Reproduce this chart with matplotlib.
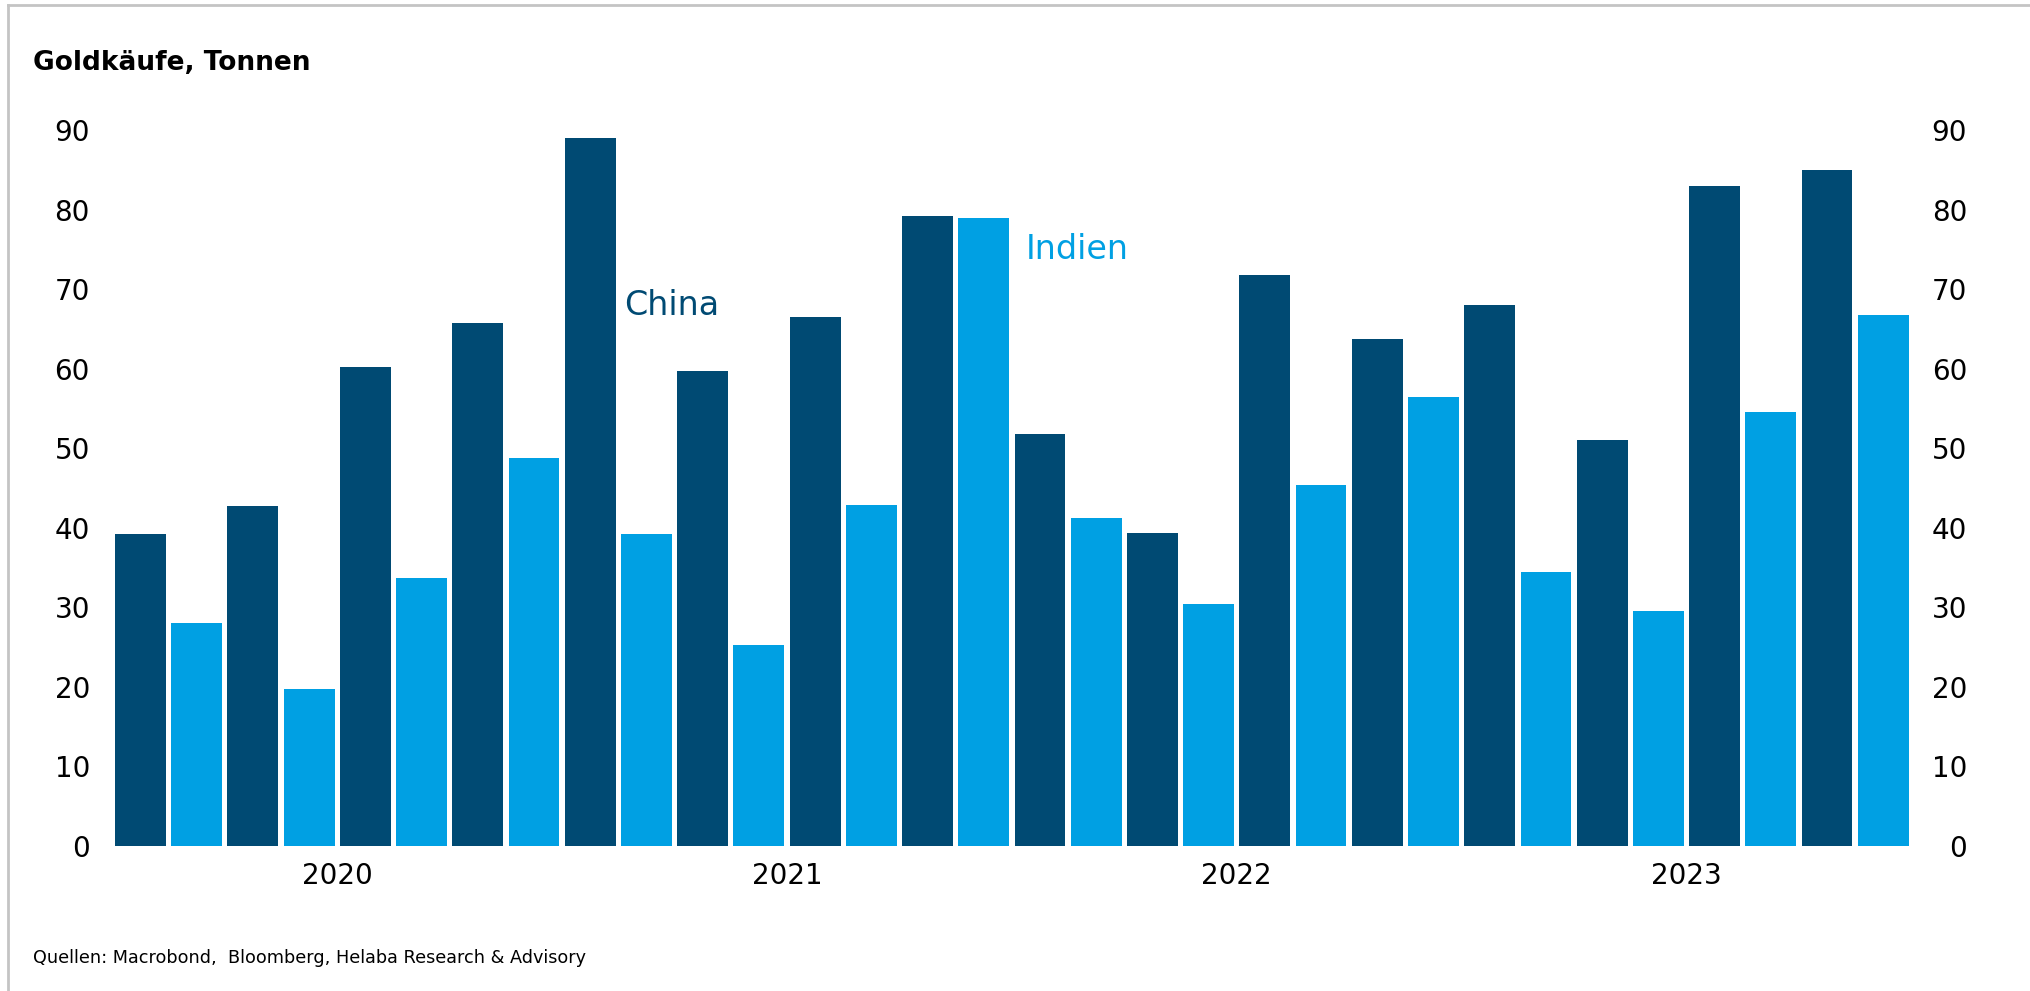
import matplotlib
matplotlib.use("Agg")
import matplotlib.pyplot as plt
from matplotlib.lines import Line2D
import numpy as np

# Goldkäufe je Quartal, Tonnen
years = ["2020", "2021", "2022", "2023"]
china = [39.2, 42.7, 60.2, 65.7, 89.0, 59.7, 66.5, 79.2,
         51.8, 39.3, 71.8, 63.7, 68.0, 51.0, 83.0, 85.0]
indien = [28.0, 19.7, 33.7, 48.8, 39.2, 25.3, 42.9, 78.9,
          41.2, 30.4, 45.4, 56.4, 34.4, 29.5, 54.5, 66.7]
yticks = list(range(0, 100, 10))

dark = "#004A73"
light = "#00A0E3"

n = len(china)
x_china = np.arange(n) * 2
x_indien = np.arange(n) * 2 + 1
bar_w = 0.905

fig = plt.figure(figsize=(20.31, 9.91), dpi=100)
fig.patch.set_facecolor("white")
ax = fig.add_axes([115 / 2031, 145.3 / 991, (1908.7 - 115) / 2031, (845.7 - 130.2) / 991])

ax.bar(x_china, china, width=bar_w, color=dark, edgecolor="none")
ax.bar(x_indien, indien, width=bar_w, color=light, edgecolor="none")

ax.set_xlim(-bar_w / 2, 2 * n - 1 + bar_w / 2)
ax.set_ylim(0, 90)

# year ticks at the centre of each year's 8 bars
per_year = 2 * n // len(years)
year_pos = [k * per_year + (per_year - 1) / 2 for k in range(len(years))]
ax.set_xticks(year_pos)
ax.set_xticklabels(years)
ax.tick_params(axis="x", length=0, pad=12, labelsize=20)

ax.set_yticks(yticks)
ax.tick_params(axis="y", length=0, labelsize=20, pad=18)

# right axis, labels right aligned
ax2 = ax.twinx()
ax2.set_ylim(0, 90)
ax2.set_yticks(yticks)
ax2.tick_params(axis="y", length=0, labelsize=20, pad=42)
for lab in ax2.get_yticklabels():
    lab.set_horizontalalignment("right")

for a in (ax, ax2):
    for s in a.spines.values():
        s.set_visible(False)

# series labels
ax.text(8.6, 68.0, "China", color=dark, fontsize=24, va="center", ha="left")
ax.text(15.75, 75.0, "Indien", color=light, fontsize=24, va="center", ha="left")

fig.text(33 / 2031, 1 - 63 / 991, "Goldkäufe, Tonnen", fontsize=19,
         fontweight="bold", va="center", ha="left")
fig.text(33 / 2031, 1 - 958 / 991,
         "Quellen: Macrobond,  Bloomberg, Helaba Research & Advisory",
         fontsize=12.7, va="center", ha="left")

# light grey frame, top and left
fig.add_artist(Line2D([8 / 2031, 8 / 2031], [0, 1 - 5 / 991],
                      transform=fig.transFigure, color="#c4c4c4", lw=2))
fig.add_artist(Line2D([8 / 2031, 1], [1 - 5 / 991, 1 - 5 / 991],
                      transform=fig.transFigure, color="#c4c4c4", lw=2))

plt.savefig("out.png", dpi=100, facecolor="white")
